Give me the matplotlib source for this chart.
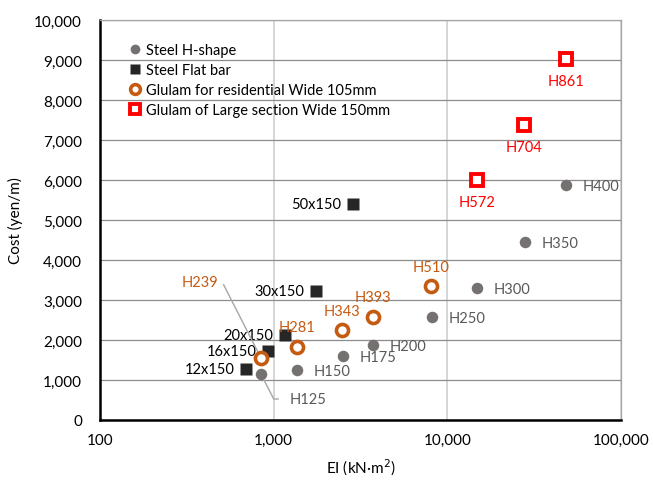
import matplotlib
matplotlib.use("Agg")
import matplotlib.pyplot as plt
from matplotlib.ticker import FixedLocator, FuncFormatter, NullLocator

plt.rcParams['font.family'] = ['Lato', 'DejaVu Sans']

# Steel H-shape
h_names = ["H125", "H150", "H175", "H200", "H250", "H300", "H350", "H400"]
h_ei = [845, 1360, 2500, 3730, 8150, 14800, 28000, 48200]
h_cost = [1150, 1250, 1600, 1875, 2575, 3300, 4450, 5875]

# Steel Flat bar
f_names = ["12x150", "16x150", "20x150", "30x150", "50x150"]
f_ei = [693, 927, 1160, 1750, 2860]
f_cost = [1275, 1725, 2125, 3225, 5400]

# Glulam for residential Wide 105mm
g_names = ["H239", "H281", "H343", "H393", "H510"]
g_ei = [845, 1360, 2470, 3730, 8060]
g_cost = [1550, 1825, 2250, 2575, 3350]

# Glulam of Large section Wide 150mm
l_names = ["H572", "H704", "H861"]
l_ei = [14800, 27600, 48200]
l_cost = [6000, 7375, 9025]

fig = plt.figure(figsize=(6.53, 4.81), dpi=100)
ax = fig.add_axes([100/653, 60/481, 521/653, 400/481])
ax.set_xscale('log')
ax.set_xlim(100, 100000)
ax.set_ylim(0, 10000)

ax.xaxis.set_major_locator(FixedLocator([100, 1000, 10000, 100000]))
ax.xaxis.set_minor_locator(NullLocator())
ax.yaxis.set_major_locator(FixedLocator(range(0, 10001, 1000)))
fmt = FuncFormatter(lambda v, p: f"{int(round(v)):,}")
ax.xaxis.set_major_formatter(fmt)
ax.yaxis.set_major_formatter(fmt)
ax.tick_params(length=0, labelsize=11)
ax.tick_params(axis='x', pad=9.5)
ax.tick_params(axis='y', pad=13)

ax.grid(axis='y', color='#8c8c8c', linewidth=0.9)
ax.grid(axis='x', color='#cfcfcf', linewidth=1.2)
ax.set_axisbelow(True)
for s in ['top', 'right']:
    ax.spines[s].set_color('#a6a6a6')
    ax.spines[s].set_linewidth(0.9)
for s in ['left', 'bottom']:
    ax.spines[s].set_color('black')
    ax.spines[s].set_linewidth(1.8)

ax.plot(h_ei, h_cost, 'o', ls='none', color='#767171', ms=8.3, mec='none',
        label='Steel H-shape', zorder=3)
ax.plot(f_ei, f_cost, 's', ls='none', color='#262626', ms=8, mec='none',
        label='Steel Flat bar', zorder=3)
ax.plot(g_ei, g_cost, 'o', ls='none', mfc='white', mec='#C55A11', mew=2.6, ms=8.7,
        label='Glulam for residential Wide 105mm', zorder=4)
ax.plot(l_ei, l_cost, 's', ls='none', mfc='white', mec='#FF0000', mew=2.8, ms=9,
        label='Glulam of Large section Wide 150mm', zorder=4)

fs = 10.5
leader = dict(arrowstyle='-', color='#a6a6a6', lw=1.0,
              connectionstyle='angle,angleA=0,angleB=117,rad=0')
# H-shape labels right
for n, x, y in zip(h_names, h_ei, h_cost):
    if n == "H125":
        ax.annotate(n, (x, y), xytext=(20.5, -18), textcoords='offset points',
                    ha='left', va='center', fontsize=fs, color='#595959',
                    arrowprops=dict(leader, shrinkA=6, shrinkB=5))
    else:
        ax.annotate(n, (x, y), xytext=(12, -0.5), textcoords='offset points',
                    ha='left', va='center', fontsize=fs, color='#595959')
# flat bar labels left
for n, x, y in zip(f_names, f_ei, f_cost):
    ax.annotate(n, (x, y), xytext=(-8.5, 0), textcoords='offset points',
                ha='right', va='center', fontsize=fs, color='black')
# residential glulam labels above
for n, x, y in zip(g_names, g_ei, g_cost):
    if n == "H239":
        ax.annotate(n, (x, y), xytext=(-31, 55), textcoords='offset points',
                    ha='right', va='center', fontsize=fs, color='#C55A11',
                    arrowprops=dict(leader, shrinkA=3, shrinkB=4))
    else:
        ax.annotate(n, (x, y), xytext=(0, 9), textcoords='offset points',
                    ha='center', va='bottom', fontsize=fs, color='#C55A11')
# large section labels below
for n, x, y in zip(l_names, l_ei, l_cost):
    ax.annotate(n, (x, y), xytext=(0, -10.5), textcoords='offset points',
                ha='center', va='top', fontsize=fs, color='#FF0000')

ax.set_xlabel('EI (kN·m$^2$)', fontsize=11, labelpad=7)
ax.set_ylabel('Cost (yen/m)', fontsize=11, labelpad=8)

leg = ax.legend(loc='upper left', bbox_to_anchor=(0.04, 0.965), frameon=False,
                fontsize=10.5, handlelength=0.8, handletextpad=0.3,
                labelspacing=0.42, borderaxespad=0.2)
for h in leg.legend_handles:
    h.set_markersize(7)

fig.savefig('out.png', dpi=100)
